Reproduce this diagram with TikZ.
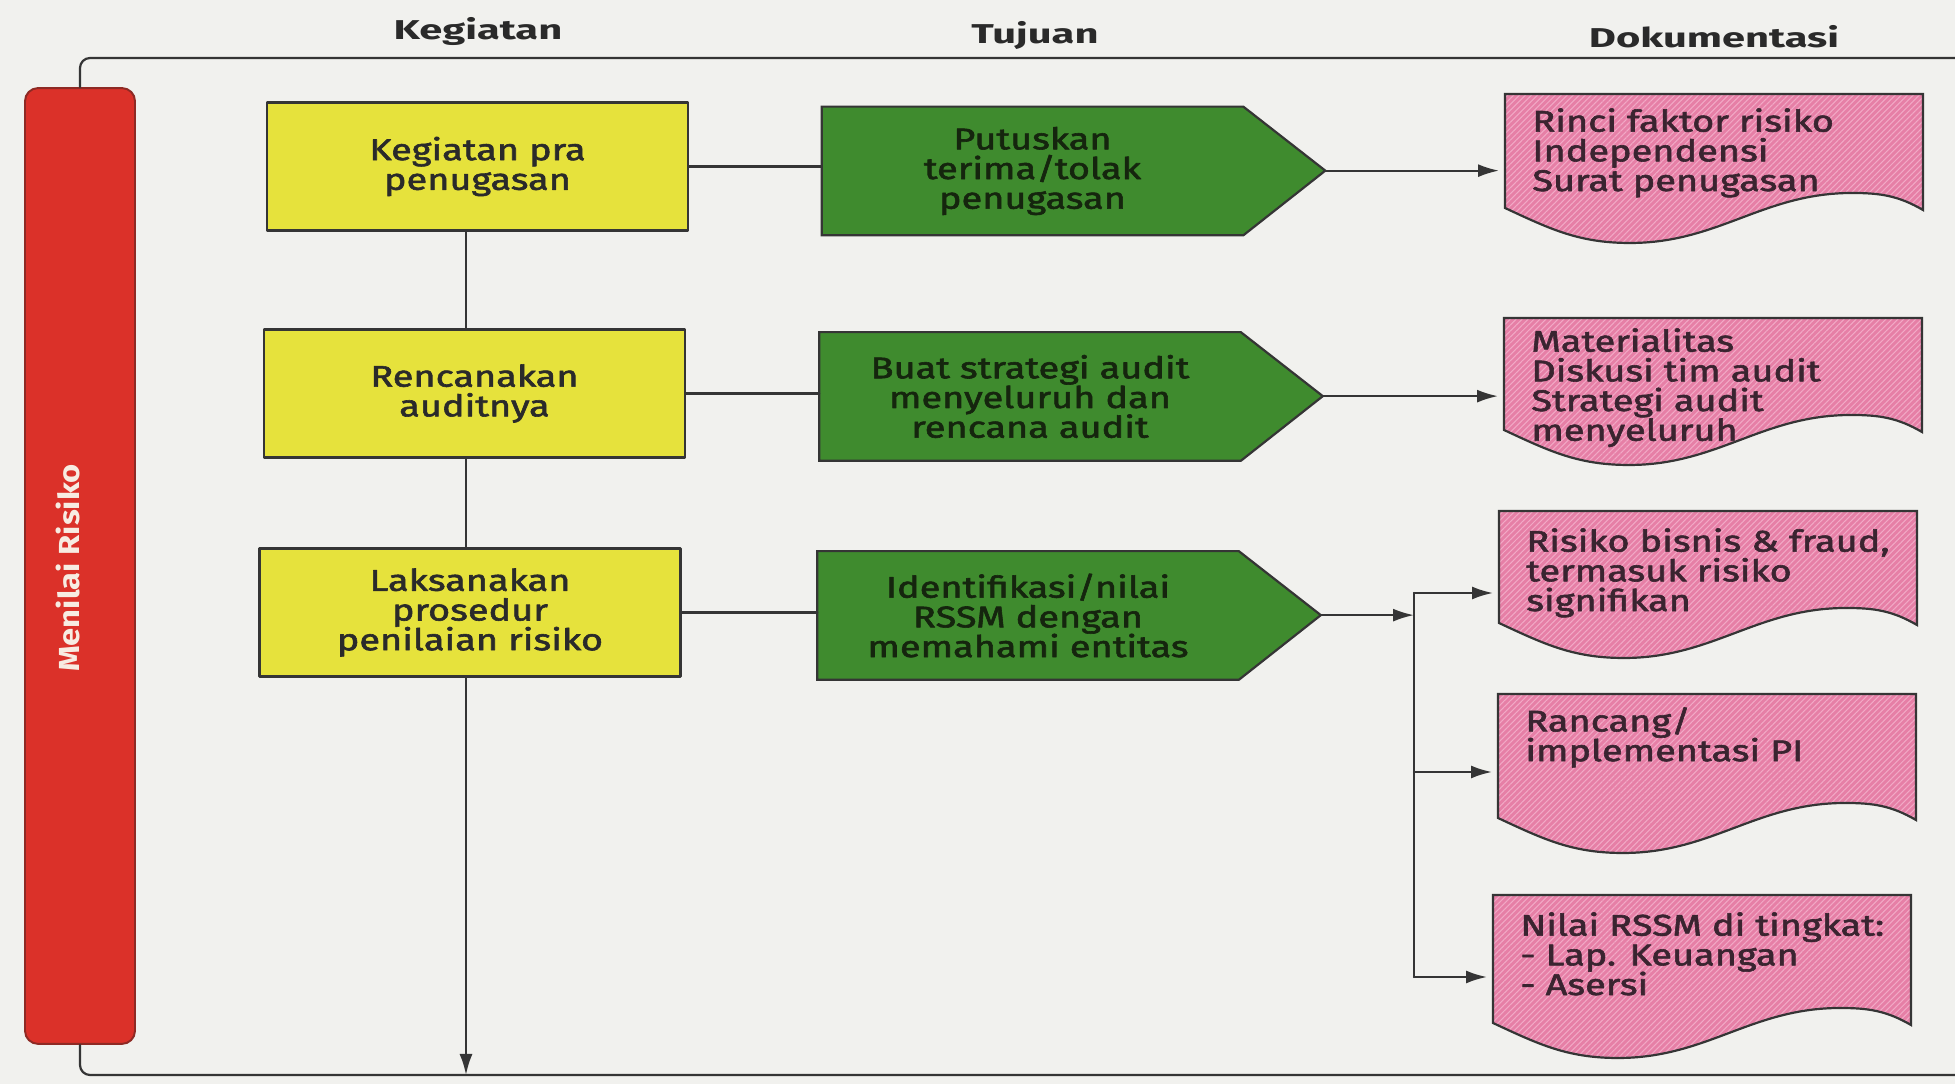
\documentclass[tikz,border=0pt]{standalone}
\usepackage{fontspec}
\newfontfamily\boxfont[FakeStretch=1.27,FakeBold=2]{Fira Sans}
\newfontfamily\headfont[FakeStretch=1.53]{Fira Sans}
\newfontfamily\barfont[FakeStretch=1.13]{Fira Sans}
\usetikzlibrary{arrows.meta}
\usetikzlibrary{patterns.meta}
\definecolor{pagebg}{HTML}{F1F1EE}
\definecolor{riskred}{HTML}{DB3129}
\definecolor{riskedge}{HTML}{8E2A24}
\definecolor{taskyellow}{HTML}{E6E23C}
\definecolor{goalgreen}{HTML}{3F8B2E}
\definecolor{docpink}{HTML}{E67FA6}
\definecolor{dochatch}{HTML}{F2A9C6}
\definecolor{linegray}{HTML}{353535}
\definecolor{inkgray}{HTML}{2A2A2A}
\definecolor{goalink}{HTML}{15250E}
\definecolor{docink}{HTML}{3A2430}
\definecolor{barink}{HTML}{F7ECE2}
\pgfdeclarelayer{bg}
\pgfsetlayers{bg,main}

\begin{document}
\begin{tikzpicture}[x=0.02cm,y=0.02cm,line cap=round,line join=round,
    conn/.style={draw=linegray,line width=1.25pt},
    arr/.style={-{Latex[length=0.42cm,width=0.26cm]}},
    head/.style={anchor=base,text=inkgray,font=\headfont\bfseries\fontsize{15.5}{16}\selectfont},
    bar/.style={draw=riskedge,line width=1.1pt,fill=riskred,rounded corners=0.26cm,minimum width=2.2cm,minimum height=19.12cm},
    task/.style={draw=linegray,line width=1.25pt,fill=taskyellow,minimum width=8.42cm,minimum height=2.56cm,align=center,text=inkgray,font=\boxfont\fontsize{17}{16.9}\selectfont},
    goal/.style={minimum width=8.42cm,minimum height=2.56cm,align=center,text=goalink,font=\boxfont\fontsize{17}{16.9}\selectfont},
    goalshape/.style={draw=linegray,line width=1.25pt,fill=goalgreen},
    doc/.style={anchor=north west,align=left,inner xsep=0.54cm,text=docink,font=\boxfont\fontsize{17}{16.9}\selectfont},
    docshape/.style={preaction={fill=docpink},preaction={pattern={Lines[angle=45,distance=2.4pt,line width=0.6pt]},pattern color=dochatch},draw=linegray,line width=1.25pt}]
        \useasboundingbox (0,0) rectangle (1955,1084);
        \begin{pgfonlayer}{bg}
        \fill[pagebg] (0,0) rectangle (1955,1084);
        \end{pgfonlayer}
        \coordinate (ftop) at (1955,1026);
        \coordinate (fbot) at (1955,9);
        \coordinate (vline) at (466,0);
        \coordinate (b3) at (1414,491);
        \coordinate (b4) at (1414,312);
        \coordinate (b5) at (1414,107);
        % column headers
        \node[head] (hk) at (478,1044) {Kegiatan};
        \node[head] (ht) at (1035,1040) {Tujuan};
        \node[head] (hd) at (1714,1036) {Dokumentasi};
        % red bar
        \node[bar] (risk) at (80,518) {};
        \node[rotate=90,text=barink,font=\barfont\bfseries\fontsize{16.5}{17}\selectfont] (risklbl) at (68,516) {Menilai Risiko};
        \draw[conn,rounded corners=0.2cm] (risk.north) |- (ftop);
        \draw[conn,rounded corners=0.2cm] (risk.south) |- (fbot);
        % activities
        \node[task] (y1) at (477.5,917.5) {Kegiatan pra\\penugasan};
        \node[task] (y2) at (474.5,690.5) {Rencanakan\\auditnya};
        \node[task] (y3) at (470,471.5) {Laksanakan\\prosedur\\penilaian risiko};
        % goals
        \node[goal] (g1) at (1032.5,913) {Putuskan\\terima/tolak\\penugasan};
        \node[goal] (g2) at (1030,687.5) {Buat strategi audit\\menyeluruh dan\\rencana audit};
        \node[goal] (g3) at (1028,468.5) {Identifikasi/nilai\\RSSM dengan\\memahami entitas};
        % documentation
        \node[doc,inner ysep=0.28cm] (p1) at (1505,990) {Rinci faktor risiko\\Independensi\\Surat penugasan};
        \node[doc,inner ysep=0.2cm] (p2) at (1504,766) {Materialitas\\Diskusi tim audit\\Strategi audit\\menyeluruh};
        \node[doc,inner ysep=0.34cm] (p3) at (1499,573) {Risiko bisnis \& fraud,\\termasuk risiko\\signifikan};
        \node[doc,inner ysep=0.26cm] (p4) at (1498,390) {Rancang/\\implementasi PI};
        \node[doc,inner ysep=0.34cm] (p5) at (1493,189) {Nilai RSSM di tingkat:\\- Lap. Keuangan\\- Asersi};
        \begin{pgfonlayer}{bg}
        \foreach \g in {g1,g2,g3}
          \path[goalshape] (\g.north west) -- (\g.north east) -- ++(82,-64) coordinate (\g-tip) -- (\g.south east) -- (\g.south west) -- cycle;
        \foreach \p/\h in {p1/114,p2/112,p3/112,p4/124,p5/128}
          \path[docshape] (\p.north west) -- ++(418,0) -- ++(0,-\h-2) to[out=150,in=0] ++(-71,17) to[out=180,in=0] ++(-222,-50) to[out=180,in=-25] ++(-125,35) -- cycle;
        \end{pgfonlayer}
        % connectors
        \draw[conn] (y1.south -| vline) -- (y2.north -| vline);
        \draw[conn] (y2.south -| vline) -- (y3.north -| vline);
        \draw[conn,arr] (y3.south -| vline) -- (vline |- fbot);
        \foreach \n in {1,2,3}
          \draw[conn] (y\n.east) -- (y\n.east -| g\n.west);
        \foreach \n in {1,2}
          \draw[conn,arr,shorten >=0.12cm] (g\n-tip) -- (g\n-tip -| p\n.west);
        \draw[conn,arr] (g3-tip) -- (g3-tip -| b3);
        \draw[conn] (b3) -- (b5);
        \foreach \b/\p in {b3/p3,b4/p4,b5/p5}
          \draw[conn,arr,shorten >=0.12cm] (\b) -- (\b -| \p.west);
\end{tikzpicture}
\end{document}
